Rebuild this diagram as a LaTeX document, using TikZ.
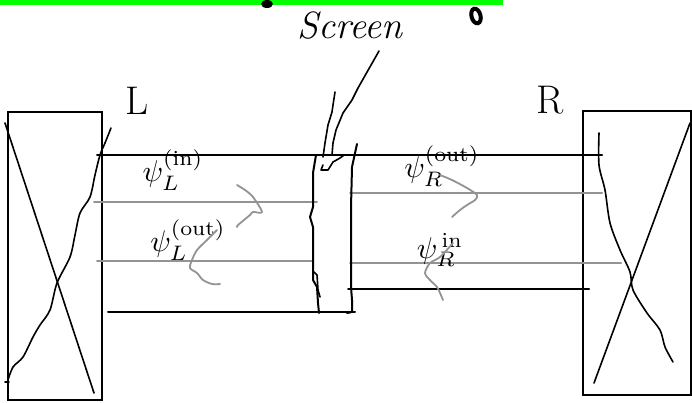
\documentclass[tikz,border=0pt]{standalone}
\usepackage{amsmath}
\begin{document}
\begin{tikzpicture}[x=1pt,y=-1pt,
  ink/.style={line width=2pt,black,line cap=round,line join=round},
  inkthin/.style={line width=1.6pt,black,line cap=round,line join=round},
  grayline/.style={line width=2pt,gray!85,line cap=round},
  packet/.style={line width=1.8pt,gray!85,line cap=round,line join=round},
  lbl/.style={scale=3.0,inner sep=0pt},
  boxstyle/.style={draw,line width=1.8pt,inner sep=0pt}]
\useasboundingbox (0,0) rectangle (692,402);
% top green bar and marks
\fill[green] (0,0) rectangle (503,4.5);
\fill[black] (267,4) ellipse [x radius=6, y radius=4];
\draw[line width=4pt,rotate around={15:(476,16)}] (476,16) ellipse [x radius=4.5, y radius=7.5];
% screen label and pointer
\node[font=\fontsize{38}{40}\selectfont\itshape,inner sep=0pt] (scr) at (350,26) {Screen};
\coordinate (p0) at (379,51);
\draw[inkthin] (p0) -- (358,88) -- (352,100) -- (343,113) -- (336,130) -- (333,143) -- (332,155);
\draw[inkthin] (335,92) -- (333,105) -- (332,112) -- (328,125) -- (325,143) -- (323,157);
\draw[inkthin] (323,165) -- (321,170) -- (328,170) -- (333,162) -- (340,158) -- (344,155);
% left box
\node[boxstyle,minimum width=94pt,minimum height=288pt] (lbox) at (55,256) {};
\draw[inkthin] (5,123) -- (94,393);
\draw[inkthin] plot[smooth] coordinates {(111,128) (105,143) (100,155) (95,175) (90,197) (80,213) (75,235) (70,257) (57,283) (50,310) (40,325) (33,337) (23,357) (13,367) (8,380)};
\draw[inkthin] (5,382) -- (9,382);
% right box
\node[boxstyle,minimum width=108pt,minimum height=284pt] (rbox) at (637,253) {};
\draw[inkthin] (690,123) -- (594,383);
\draw[inkthin] plot[smooth] coordinates {(599,133) (599,165) (605,190) (610,223) (620,250) (630,272) (633,290) (647,313) (660,330) (665,347) (673,362)};
% horizontal lines
\draw[ink] (97,155) -- (602,155);
\draw[grayline] (94,202) -- (317,202);
\draw[grayline] (97,261) -- (313,261);
\draw[grayline] (350,193) -- (602,193);
\draw[grayline] (350,263) -- (621,263);
\draw[ink] (108,312) -- (355,312);
\draw[ink] (348,289) -- (589,289);
% screen walls
\draw[ink] (316,155) -- (313,173) -- (313,207) -- (310,217) -- (313,227) -- (313,270) -- (313,280) -- (317,287) -- (318,303) -- (319,313);
\draw[inkthin] (314,272) -- (317,275) -- (318,290) -- (320,297);
\draw[ink] (357,144) -- (352,167) -- (351,207) -- (351,287) -- (352,300) -- (352,312) -- (347,313);
% labels
\node[font=\fontsize{40}{42}\selectfont,inner sep=0pt] (L) at (137,101) {L};
\node[font=\fontsize{40}{42}\selectfont,inner sep=0pt] (R) at (550,100) {R};
\node[lbl] (psiLin) at (173,170) {$\psi_L^{(\mathrm{in})}$};
\node[lbl] (psiLout) at (188,240) {$\psi_L^{(\mathrm{out})}$};
\node[lbl] (psiRout) at (442,166) {$\psi_R^{(\mathrm{out})}$};
\node[lbl] (psiRin) at (440,250) {$\psi_R^{\,\mathrm{in}}$};
% wave packets
\draw[packet] plot[smooth] coordinates {(237,185) (245,190) (253,197) (262,212) (253,212) (250,215) (238,225) (237,227)};
\draw[packet] plot[smooth] coordinates {(217,230) (207,240) (197,250) (192,260) (190,268) (197,273) (203,280) (212,284) (220,284)};
\draw[packet] plot[smooth] coordinates {(440,175) (452,180) (467,188) (477,195) (475,200) (467,205) (460,210) (452,217)};
\draw[packet] plot[smooth] coordinates {(453,243) (440,257) (430,263) (425,273) (430,280) (437,287) (440,293) (443,300)};
\end{tikzpicture}
\end{document}
